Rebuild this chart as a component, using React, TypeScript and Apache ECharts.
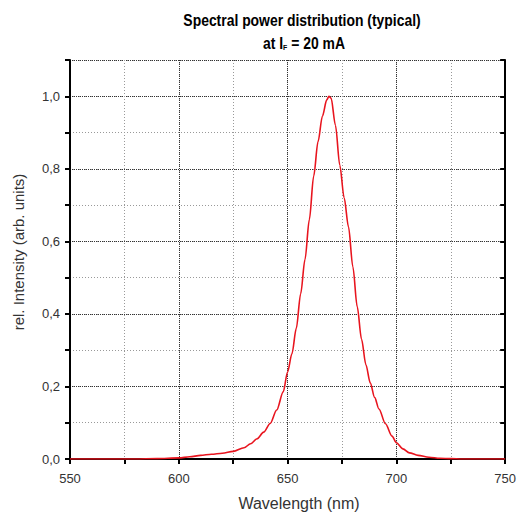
import React, { useEffect, useRef } from "react";
import * as echarts from "echarts";

const wavelengths = [
  550, 560, 570, 580, 590, 600, 605, 610, 615, 620, 625, 630, 633, 636, 639,
  642, 645, 648, 650, 652, 654, 656, 658, 660, 662, 664, 666, 668, 669, 670,
  672, 674, 676, 678, 680, 682, 684, 686, 688, 690, 692, 695, 698, 700, 703,
  706, 710, 715, 720, 725, 730, 740, 750,
];
const intensity = [
  0, 0, 0, 0, 0.001, 0.003, 0.006, 0.01, 0.013, 0.016, 0.021, 0.031, 0.042,
  0.056, 0.074, 0.098, 0.135, 0.185, 0.24, 0.29, 0.36, 0.455, 0.55, 0.66, 0.78,
  0.875, 0.945, 0.99, 1.0, 0.995, 0.92, 0.81, 0.72, 0.64, 0.53, 0.42, 0.33,
  0.26, 0.21, 0.17, 0.138, 0.097, 0.063, 0.045, 0.028, 0.017, 0.01, 0.005,
  0.002, 0.001, 0, 0, 0,
];

const xMin = 550;
const xMax = 750;
const yMin = 0;
const yMax = 1.1;

const titleLine1 = "Spectral power distribution (typical)";
const titleLine2 = "at I{s|F} = 20 mA";
const xName = "Wavelength (nm)";
const yName = "rel. Intensity (arb. units)";

export default function App() {
  const ref = useRef<HTMLDivElement>(null);
  useEffect(() => {
    if (!ref.current) return;
    const chart = echarts.init(ref.current, null, { renderer: "svg" });
    const data = wavelengths.map((w, i) => [w, intensity[i]]);
    const grid = { left: 70, right: 11, top: 60, bottom: 56 };
    const axisLine = { show: true, lineStyle: { color: "#000", width: 2 } };
    const labelFont = "'Liberation Sans', Arial, sans-serif";
    const titleFont = "'Liberation Sans', Arial, sans-serif";
    chart.setOption({
      animation: false,
      backgroundColor: "#fff",
      grid,
      xAxis: [
        {
          type: "value",
          position: "bottom",
          min: xMin,
          max: xMax,
          interval: 25,
          axisLine,
          axisTick: { show: true, length: 5, inside: false, lineStyle: { color: "#000", width: 2 } },
          axisLabel: {
            margin: 13,
            color: "#333",
            fontSize: 13,
            fontFamily: labelFont,
            formatter: (v: number) => (v % 50 === 0 ? String(v) : ""),
          },
          splitLine: { show: true, lineStyle: { type: [1, 2], color: "#999", width: 1 } },
        },
        {
          type: "value",
          position: "top",
          min: xMin,
          max: xMax,
          interval: 25,
          axisLine,
          axisTick: { show: true, length: 5, inside: true, lineStyle: { color: "#000", width: 2 } },
          axisLabel: { show: false },
          splitLine: { show: false },
        },
        {
          type: "value",
          position: "bottom",
          min: xMin,
          max: xMax,
          interval: 50,
          axisLine: { show: false },
          axisTick: { show: false },
          axisLabel: { show: false },
          splitLine: { show: true, lineStyle: { type: [1, 1], color: "#333", width: 1 } },
        },
      ],
      yAxis: [
        {
          type: "value",
          position: "left",
          min: yMin,
          max: yMax,
          interval: 0.1,
          axisLine,
          axisTick: { show: true, length: 5, inside: false, lineStyle: { color: "#000", width: 2 } },
          axisLabel: {
            margin: 10,
            color: "#333",
            fontSize: 13,
            fontFamily: labelFont,
            formatter: (v: number) => {
              const k = Math.round(v * 10);
              if (k % 2 !== 0 || k > 10) return "";
              return v.toFixed(1).replace(".", ",");
            },
          },
          splitLine: { show: true, lineStyle: { type: [1, 2], color: "#999", width: 1 } },
        },
        {
          type: "value",
          position: "right",
          min: yMin,
          max: yMax,
          interval: 0.1,
          axisLine,
          axisTick: { show: true, length: 5, inside: true, lineStyle: { color: "#000", width: 2 } },
          axisLabel: { show: false },
          splitLine: { show: false },
        },
        {
          type: "value",
          position: "left",
          min: yMin,
          max: yMax,
          interval: 0.2,
          axisLine: { show: false },
          axisTick: { show: false },
          axisLabel: { show: false },
          splitLine: { show: true, lineStyle: { type: [1, 1], color: "#333", width: 1 } },
        },
      ],
      series: [
        {
          type: "line",
          xAxisIndex: 0,
          yAxisIndex: 0,
          data,
          smooth: 0.3,
          smoothMonotone: "x",
          showSymbol: false,
          symbol: "none",
          lineStyle: { color: "#e8141e", width: 1.6 },
          z: 5,
        },
      ],
      graphic: [
        {
          type: "text",
          x: 302,
          y: 20,
          scaleX: 0.87,
          style: {
            text: titleLine1,
            fill: "#000",
            fontSize: 16,
            fontWeight: "bold",
            fontFamily: titleFont,
            textAlign: "center",
            textVerticalAlign: "middle",
          },
        },
        {
          type: "text",
          x: 304,
          y: 43,
          scaleX: 0.87,
          style: {
            text: titleLine2,
            fill: "#000",
            fontSize: 16,
            lineHeight: 17,
            fontWeight: "bold",
            fontFamily: titleFont,
            textAlign: "center",
            textVerticalAlign: "middle",
            rich: {
              s: {
                fontSize: 8,
                lineHeight: 8,
                verticalAlign: "bottom",
                fontWeight: "bold",
                fontFamily: titleFont,
              },
            },
          },
        },
        {
          type: "text",
          x: 299,
          y: 503,
          style: {
            text: xName,
            fill: "#333",
            fontSize: 16,
            fontFamily: labelFont,
            textAlign: "center",
            textVerticalAlign: "middle",
          },
        },
        {
          type: "text",
          x: 18,
          y: 252,
          rotation: Math.PI / 2,
          style: {
            text: yName,
            fill: "#333",
            fontSize: 15,
            fontFamily: labelFont,
            textAlign: "center",
            textVerticalAlign: "middle",
          },
        },
      ],
    });
    return () => chart.dispose();
  }, []);
  return (
    <div
      ref={ref}
      style={{ position: "fixed", left: 0, top: 0, width: 519, height: 515, background: "#fff" }}
    />
  );
}
